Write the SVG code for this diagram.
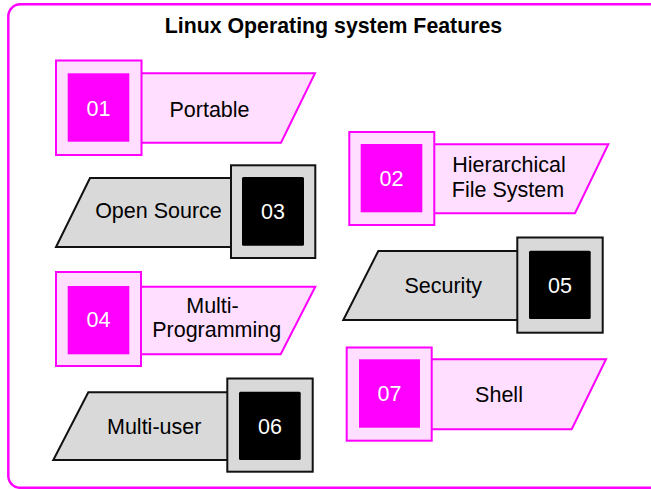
<svg xmlns="http://www.w3.org/2000/svg" width="651" height="489" viewBox="0 0 651 489">
<style>
.frame{fill:#ffffff;stroke:#ff00ff;stroke-width:2.5}
.pbar{fill:#ffdeff;stroke:#ff00ff;stroke-width:2}
.pbox{fill:#ffdeff;stroke:#ff00ff;stroke-width:2}
.pin{fill:#ff00ff}
.gbar{fill:#d9d9d9;stroke:#111111;stroke-width:2}
.gbox{fill:#d9d9d9;stroke:#111111;stroke-width:2}
.gin{fill:#000000}
.title{font-family:"Liberation Sans",Arial,sans-serif;font-weight:bold;font-size:21.3px;fill:#000;text-anchor:middle}
.lbl{font-family:"Liberation Sans",Arial,sans-serif;font-size:21.5px;fill:#000;text-anchor:middle}
.num{font-family:"Liberation Sans",Arial,sans-serif;font-size:21.5px;fill:#fff;text-anchor:middle}
</style>
<rect class="frame" x="8.3" y="4.3" width="660" height="483.5" rx="12"/>
<text class="title" x="333.5" y="33">Linux Operating system Features</text>
<g id="connectors"/>
<g id="node01">
<polygon class="pbar" points="120,73.3 315,73.3 281,142.7 120,142.7"/>
<rect class="pbox" x="56" y="60.5" width="85.5" height="94.5"/>
<rect class="pin" x="67.7" y="73.3" width="61.6" height="68.4"/>
<text class="num" x="98.5" y="116">01</text>
<text class="lbl" x="209.5" y="116.5">Portable</text>
</g>
<g id="node02">
<polygon class="pbar" points="420,144.3 608.3,144.3 575,213.3 420,213.3"/>
<rect class="pbox" x="349.3" y="132" width="85" height="93"/>
<rect class="pin" x="360.7" y="144" width="61.6" height="68.3"/>
<text class="num" x="391.5" y="186">02</text>
<text class="lbl" x="509" y="171.7">Hierarchical</text>
<text class="lbl" x="508" y="196.7">File System</text>
</g>
<g id="node03">
<polygon class="gbar" points="90,178 245,178 245,247 56,247"/>
<rect class="gbox" x="231" y="165.3" width="84.3" height="92.7"/>
<rect class="gin" x="242" y="177" width="62" height="68.7" rx="1.5"/>
<text class="num" x="273" y="218.8">03</text>
<text class="lbl" x="158.5" y="218">Open Source</text>
</g>
<g id="node04">
<polygon class="pbar" points="120,286.7 315.3,286.7 280.7,354.3 120,354.3"/>
<rect class="pbox" x="56" y="272" width="85" height="94"/>
<rect class="pin" x="67.7" y="286" width="61.6" height="68.3"/>
<text class="num" x="98.5" y="327">04</text>
<text class="lbl" x="212.5" y="313.3">Multi-</text>
<text class="lbl" x="216.7" y="336.7">Programming</text>
</g>
<g id="node05">
<polygon class="gbar" points="378.3,251 530,251 530,320 343.3,320"/>
<rect class="gbox" x="517.3" y="237.5" width="85.4" height="95.2"/>
<rect class="gin" x="529" y="250.7" width="61.7" height="68.3" rx="1.5"/>
<text class="num" x="560" y="292.5">05</text>
<text class="lbl" x="443.3" y="293.3">Security</text>
</g>
<g id="node06">
<polygon class="gbar" points="88.3,392.3 240,392.3 240,460 53.3,460"/>
<rect class="gbox" x="227.3" y="378.5" width="85.4" height="93.2"/>
<rect class="gin" x="239" y="391.7" width="61.7" height="68.3" rx="1.5"/>
<text class="num" x="270" y="433.5">06</text>
<text class="lbl" x="154.2" y="434">Multi-user</text>
</g>
<g id="node07">
<polygon class="pbar" points="420,359.3 606,359.3 571.7,429.3 420,429.3"/>
<rect class="pbox" x="346.7" y="347.5" width="85" height="93.2"/>
<rect class="pin" x="359" y="359.3" width="61" height="68.4"/>
<text class="num" x="389.5" y="401">07</text>
<text class="lbl" x="499" y="401.7">Shell</text>
</g>
</svg>
